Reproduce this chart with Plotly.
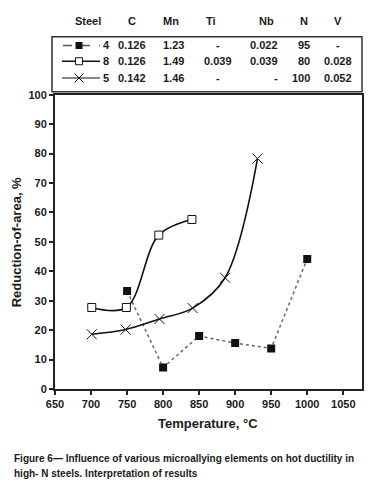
import plotly.graph_objects as go

# ---- data ----
temps4 = [750, 800, 850, 900, 950, 1000]
ra4 = [33.3, 7.3, 18.0, 15.6, 13.8, 44.2]
temps8 = [701, 749, 794, 840]
ra8 = [27.7, 27.7, 52.3, 57.6]
temps5 = [701, 748, 795, 841, 886, 931]
ra5 = [18.6, 20.2, 23.8, 27.5, 37.8, 78.3]

headers = ["Steel", "C", "Mn", "Ti", "Nb", "N", "V"]
steels = ["4", "8", "5"]
col_C = ["0.126", "0.126", "0.142"]
col_Mn = ["1.23", "1.49", "1.46"]
col_Ti = ["-", "0.039", "-"]
col_Nb = ["0.022", "0.039", "-"]
col_N = ["95", "80", "100"]
col_V = ["-", "0.028", "0.052"]

xticks = [650, 700, 750, 800, 850, 900, 950, 1000, 1050]
yticks = [0, 10, 20, 30, 40, 50, 60, 70, 80, 90, 100]

FONT = "Liberation Sans, Arial, sans-serif"
OFF = 8                      # page body margin in the browser
W, H = 372 - OFF, 487 - OFF
L, R, B = 55 - OFF, 10, 98
PW = W - L - R               # 307
PH_TOTAL = H - B             # paper height (t=0)


def px_x(px):
    return (px - OFF - L) / PW


def px_y(py):
    return (PH_TOTAL - (py - OFF)) / PH_TOTAL


fig = go.Figure()

fig.add_trace(go.Scatter(
    x=temps4, y=ra4, mode="lines+markers",
    line=dict(color="#666666", width=1.5, dash="dot"),
    marker=dict(symbol="square", size=8, color="#111111"),
    showlegend=False))
fig.add_trace(go.Scatter(
    x=temps8, y=ra8, mode="lines+markers",
    line=dict(color="#111111", width=1.6, shape="spline", smoothing=1.0),
    marker=dict(symbol="square", size=8, color="white", line=dict(color="#111111", width=1)),
    showlegend=False))
fig.add_trace(go.Scatter(
    x=temps5, y=ra5, mode="lines+markers",
    line=dict(color="#111111", width=1.6, shape="spline", smoothing=1.0),
    marker=dict(symbol="x-thin", size=10, color="#111111", line=dict(color="#111111", width=1)),
    showlegend=False))

# legend swatches in the table (overlay subplot in page-pixel coordinates)
leg_y = [40, 56, 73]
fig.add_trace(go.Scatter(x=[63, 100], y=[leg_y[0]] * 2, mode="lines", xaxis="x2", yaxis="y2",
                         line=dict(color="#555555", width=1.4, dash="dash"), showlegend=False, cliponaxis=False))
fig.add_trace(go.Scatter(x=[79], y=[leg_y[0]], mode="markers", xaxis="x2", yaxis="y2",
                         marker=dict(symbol="square", size=7, color="#111111"), showlegend=False, cliponaxis=False))
fig.add_trace(go.Scatter(x=[62, 100], y=[leg_y[1]] * 2, mode="lines", xaxis="x2", yaxis="y2",
                         line=dict(color="#111111", width=1.4), showlegend=False, cliponaxis=False))
fig.add_trace(go.Scatter(x=[79], y=[leg_y[1]], mode="markers", xaxis="x2", yaxis="y2",
                         marker=dict(symbol="square", size=7, color="white", line=dict(color="#111111", width=1)),
                         showlegend=False, cliponaxis=False))
fig.add_trace(go.Scatter(x=[62, 100], y=[leg_y[2]] * 2, mode="lines", xaxis="x2", yaxis="y2",
                         line=dict(color="#111111", width=1.2), showlegend=False, cliponaxis=False))
fig.add_trace(go.Scatter(x=[79], y=[leg_y[2]], mode="markers", xaxis="x2", yaxis="y2",
                         marker=dict(symbol="x-thin", size=9, color="#111111", line=dict(color="#111111", width=1)),
                         showlegend=False, cliponaxis=False))

annotations = []
tfont = dict(family=FONT, size=11, color="#1a1a1a", weight="bold")

head_x = [88, 132, 171, 211, 266, 304, 338]
for h, hx in zip(headers, head_x):
    annotations.append(dict(x=px_x(hx), y=px_y(15), xref="paper", yref="paper", text=h,
                            showarrow=False, xanchor="center", yanchor="middle", font=tfont))

cols = [
    (col_C, 132, "center"),
    (col_Mn, 173, "center"),
    (col_Ti, 218, "center"),
    (col_Nb, 280, "right"),
    (col_N, 312, "right"),
    (col_V, 338, "center"),
]
for i, s in enumerate(steels):
    yy = px_y(leg_y[i])
    annotations.append(dict(x=px_x(101), y=yy, xref="paper", yref="paper", text=s,
                            showarrow=False, xanchor="left", yanchor="middle", font=tfont))
    for vals, cx, anc in cols:
        annotations.append(dict(x=px_x(cx), y=yy, xref="paper", yref="paper", text=vals[i],
                                showarrow=False, xanchor=anc, yanchor="middle", font=tfont))

# axis titles
annotations.append(dict(x=px_x(208), y=px_y(424), xref="paper", yref="paper", text="Temperature, °C",
                        showarrow=False, xanchor="center", yanchor="middle",
                        font=dict(family=FONT, size=13, color="#1a1a1a", weight="bold")))
annotations.append(dict(x=px_x(16), y=px_y(240), xref="paper", yref="paper", text="Reduction-of-area, %",
                        showarrow=False, xanchor="center", yanchor="middle", textangle=-90,
                        font=dict(family=FONT, size=13, color="#1a1a1a", weight="bold")))
# caption
cap_font = dict(family=FONT, size=10, color="#1a1a1a", weight="bold")
annotations.append(dict(x=px_x(12), y=px_y(460), xref="paper", yref="paper",
                        text="Figure 6— Influence of various microallying elements on hot ductility in",
                        showarrow=False, xanchor="left", yanchor="middle", font=cap_font))
annotations.append(dict(x=px_x(12), y=px_y(475), xref="paper", yref="paper",
                        text="high- N steels. Interpretation of results",
                        showarrow=False, xanchor="left", yanchor="middle", font=cap_font))

shapes = [dict(type="rect", xref="paper", yref="paper",
               x0=px_x(52), x1=px_x(362), y0=px_y(87), y1=px_y(31),
               line=dict(color="#333333", width=1.5), fillcolor="rgba(0,0,0,0)")]

top_plot = 90 - OFF
fig.update_layout(
    width=W, height=H,
    margin=dict(l=L, r=R, t=0, b=B, pad=0),
    paper_bgcolor="white", plot_bgcolor="white",
    annotations=annotations, shapes=shapes,
    xaxis=dict(range=[650, 1076], tickvals=xticks, ticks="outside", ticklen=4, tickwidth=1.5,
               tickcolor="#222", showline=True, linecolor="#222", linewidth=2, mirror=True,
               showgrid=False, zeroline=False, domain=[0, 1], anchor="y",
               tickfont=dict(family=FONT, size=11, color="#1a1a1a", weight="bold")),
    yaxis=dict(range=[0, 100], tickvals=yticks, ticks="outside", ticklen=4, tickwidth=1.5,
               tickcolor="#222", showline=True, linecolor="#222", linewidth=2, mirror=True,
               showgrid=False, zeroline=False, domain=[0, (PH_TOTAL - top_plot) / PH_TOTAL], anchor="x",
               tickfont=dict(family=FONT, size=11, color="#1a1a1a", weight="bold")),
    # overlay axes for the table swatches, coordinates = page pixels
    xaxis2=dict(range=[55, 362], domain=[0, 1], anchor="y2", visible=False, fixedrange=True),
    yaxis2=dict(range=[89, OFF], domain=[(PH_TOTAL - (89 - OFF)) / PH_TOTAL, 1], anchor="x2", visible=False,
                fixedrange=True),
)

fig.write_html("out.html")
